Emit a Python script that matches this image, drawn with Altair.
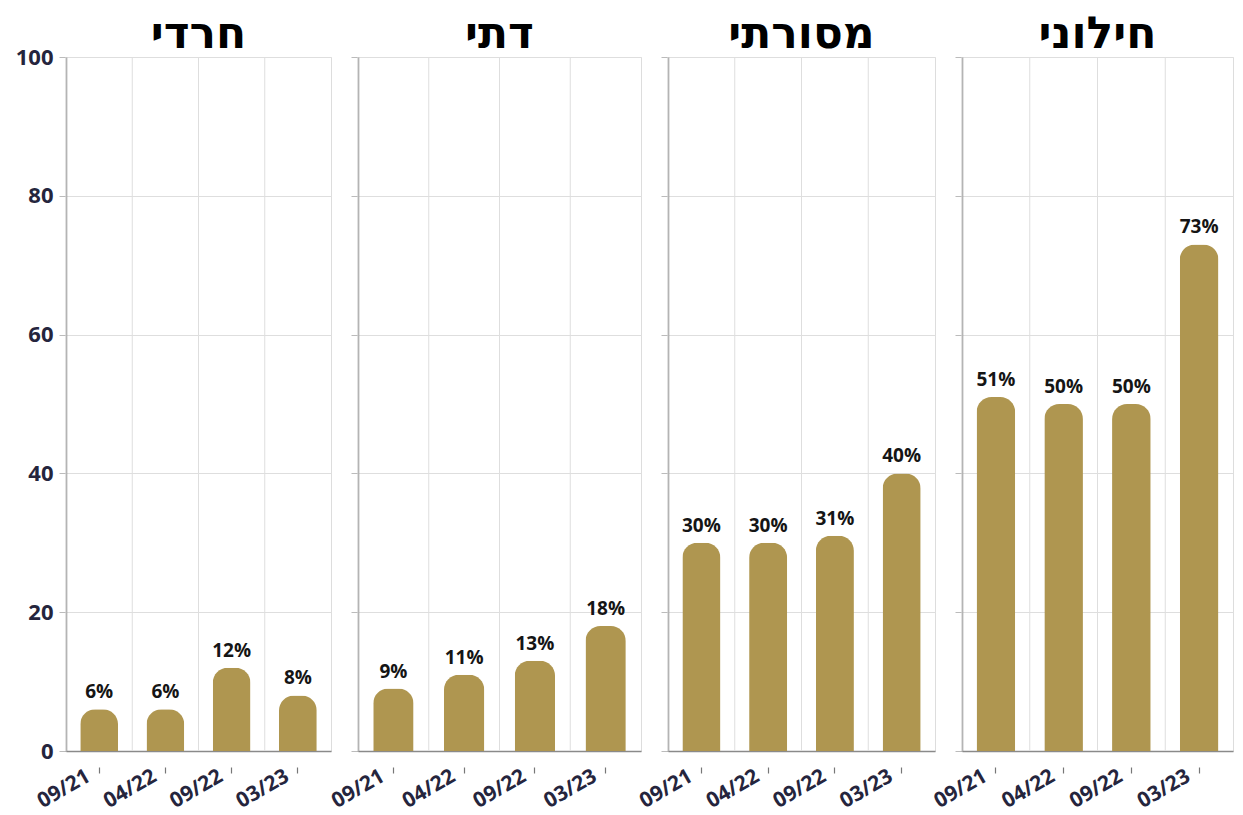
import altair as alt
import pandas as pd

groups = ["חרדי", "דתי", "מסורתי", "חילוני"]
periods = ["09/21", "04/22", "09/22", "03/23"]
haredi = [6, 6, 12, 8]
dati = [9, 11, 13, 18]
masorti = [30, 30, 31, 40]
hiloni = [51, 50, 50, 73]
y_ticks = [0, 20, 40, 60, 80, 100]

BAR = "#AF9650"
NAVY = "#25253d"
FONT = "Open Sans"


def panel(vals, title, width, first):
    df = pd.DataFrame({"period": periods, "value": vals,
                       "label": [f"{v}%" for v in vals]})
    base = alt.Chart(df)
    xscale = alt.Scale(domain=periods, paddingInner=0, paddingOuter=0)
    yaxis = alt.Axis(
        values=y_ticks, labels=first, labelFont=FONT, labelFontSize=22,
        labelFontWeight="bold", labelColor=NAVY, labelPadding=6,
        ticks=True, tickSize=7, tickColor="#bbb",
        domain=True, domainColor="#8a8a8a", domainWidth=1.5,
        grid=True, gridColor="#dedede", minExtent=0)
    y = alt.Y("value:Q", scale=alt.Scale(domain=[0, 100], nice=False),
              title=None, axis=yaxis)
    vgrid = base.mark_rule(color="#dedede", strokeWidth=1).encode(
        x=alt.X("period:N", sort=periods, scale=xscale, bandPosition=0,
                title=None, axis=None),
    )
    bars = base.mark_bar(
        color=BAR, width=alt.RelativeBandSize(0.57),
        cornerRadiusTopLeft=15, cornerRadiusTopRight=15,
    ).encode(
        x=alt.X("period:N", sort=periods, scale=xscale, title=None,
                axis=alt.Axis(orient="bottom", labelAngle=-30,
                              labelAlign="right", labelBaseline="top",
                              labelFont=FONT, labelFontSize=21,
                              labelFontWeight="bold", labelColor=NAVY,
                              labelPadding=14, labelOffset=-16,
                              ticks=False, domainColor="#8a8a8a",
                              domainWidth=1.5, grid=False)),
        y=y,
    )
    texts = base.mark_text(
        baseline="bottom", dy=-7, font=FONT, fontSize=19,
        fontWeight="bold", color="#151515",
    ).encode(
        x=alt.X("period:N", sort=periods, scale=xscale, title=None,
                axis=alt.Axis(orient="bottom", offset=16, labels=False,
                              domain=False, grid=False, ticks=True,
                              tickSize=6, tickWidth=1.2, tickColor="#777")),
        y=y,
        text="label:N",
    )
    return alt.layer(vgrid, bars, texts).resolve_axis(x="independent").properties(
        width=width, height=694,
        title=alt.TitleParams(title, fontSize=44, font="DejaVu Sans",
                              fontWeight="bold", color="#000",
                              anchor="middle", offset=0,
                              dy=11 if first else 0),
    )


p1 = panel(haredi, groups[0], 265, True)
p2 = panel(dati, groups[1], 283, False)
p3 = panel(masorti, groups[2], 267, False)
p4 = panel(hiloni, groups[3], 271, False)

chart = alt.hconcat(p1, p2, p3, p4, spacing=27, bounds="flush").configure_view(
    stroke=None
).configure(background="white", padding={"left": 6, "right": 0, "top": 4, "bottom": 0})

chart.save("out.html", embed_options={"renderer": "svg", "actions": False})
